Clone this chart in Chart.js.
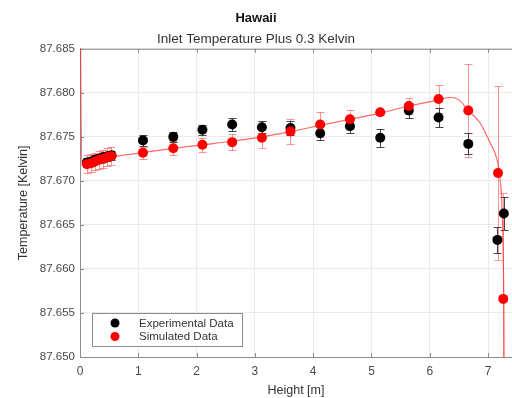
<!DOCTYPE html>
<html>
<head>
<meta charset="utf-8">
<script src="https://cdn.jsdelivr.net/npm/chart.js@4/dist/chart.umd.min.js"></script>
<style>
  html, body { margin: 0; padding: 0; background: #fff; }
  #wrap { width: 512px; height: 398px; }
</style>
</head>
<body>
<div id="wrap"><canvas id="c" width="512" height="398"></canvas></div>
<script>
// Measured temperatures along the height of the test section
const expHeight = [0.12, 0.19, 0.26, 0.33, 0.40, 0.47, 0.54, 1.08, 1.60, 2.10, 2.61, 3.12, 3.61, 4.12, 4.63, 5.15, 5.64, 6.15, 6.66, 7.16, 7.27];
const expTemp   = [87.6721, 87.6722, 87.6724, 87.6725, 87.6727, 87.6728, 87.6729, 87.6746, 87.6750, 87.6758, 87.6764, 87.6761, 87.6760, 87.6754, 87.6762, 87.6749, 87.6780, 87.6772, 87.6742, 87.6633, 87.6663];
const expErr    = [0.0005, 0.0005, 0.0005, 0.0005, 0.0005, 0.0005, 0.0005, 0.0006, 0.0006, 0.0006, 0.0007, 0.0007, 0.0008, 0.0008, 0.0008, 0.0010, 0.0009, 0.0011, 0.0012, 0.0015, 0.0019];

// Simulated temperatures at the sensor heights
const simHeight = [0.12, 0.19, 0.26, 0.33, 0.40, 0.47, 0.54, 1.08, 1.60, 2.10, 2.61, 3.12, 3.61, 4.12, 4.63, 5.15, 5.64, 6.15, 6.66, 7.17, 7.26];
const simTemp   = [87.6719, 87.6720, 87.6722, 87.6724, 87.6725, 87.6727, 87.6728, 87.6732, 87.6737, 87.6741, 87.6744, 87.6749, 87.6756, 87.6764, 87.6770, 87.6778, 87.6785, 87.6793, 87.6780, 87.6709, 87.6566];
const simErr    = [0.0010, 0.0010, 0.0010, 0.0010, 0.0010, 0.0010, 0.0010, 0.0007, 0.0008, 0.0008, 0.0009, 0.0012, 0.0014, 0.0014, 0.0011, 0.0003, 0.0009, 0.0016, 0.0053, 0.0099, 0.0120];

// Continuous simulated profile
const curveHeight = [0.00, 0.03, 0.54, 1.08, 1.60, 2.10, 2.61, 3.12, 3.61, 4.12, 4.63, 5.15, 5.64, 6.15, 6.35, 6.50, 6.66, 6.86, 7.03, 7.15, 7.20, 7.27, 7.28];
const curveTemp   = [87.6950, 87.6718, 87.6727, 87.6732, 87.6737, 87.6741, 87.6745, 87.6750, 87.6756, 87.6763, 87.6770, 87.6777, 87.6785, 87.6792, 87.6795, 87.6792, 87.6780, 87.6766, 87.6744, 87.6725, 87.6705, 87.6566, 87.6400];

const xTicks = [0, 1, 2, 3, 4, 5, 6, 7];
const yTicks = [87.650, 87.655, 87.660, 87.665, 87.670, 87.675, 87.680, 87.685];

const FONT = "'Liberation Sans', Arial, sans-serif";
const toPoints = (xs, ys) => xs.map((v, i) => ({ x: v, y: ys[i] }));

// Vertical error bars with caps, drawn beneath the markers
const errorBars = {
  id: 'errorBars',
  beforeDatasetsDraw(chart) {
    const { ctx, chartArea: a, scales: { x, y } } = chart;
    ctx.save();
    ctx.beginPath();
    ctx.rect(a.left, a.top, a.right - a.left, a.bottom - a.top);
    ctx.clip();
    chart.data.datasets.forEach(ds => {
      if (!ds.errorBars) return;
      ctx.strokeStyle = ds.errorBars.color;
      ctx.lineWidth = 1;
      ds.data.forEach((p, i) => {
        const e = ds.errorBars.values[i];
        const px = Math.round(x.getPixelForValue(p.x)) + 0.5;
        const t = Math.round(y.getPixelForValue(p.y + e)) + 0.5;
        const b = Math.round(y.getPixelForValue(p.y - e)) + 0.5;
        ctx.beginPath();
        ctx.moveTo(px, t); ctx.lineTo(px, b);
        ctx.moveTo(px - 4, t); ctx.lineTo(px + 4, t);
        ctx.moveTo(px - 4, b); ctx.lineTo(px + 4, b);
        ctx.stroke();
      });
    });
    ctx.restore();
  }
};

// Box edge along the top and small inward tick marks
const frame = {
  id: 'frame',
  beforeDatasetsDraw(chart) {
    const { ctx, chartArea: a, scales: { x, y } } = chart;
    ctx.save();
    ctx.strokeStyle = '#8c8c8c';
    ctx.lineWidth = 1;
    ctx.beginPath();
    ctx.moveTo(a.left, a.top + 0.5); ctx.lineTo(a.right, a.top + 0.5);
    xTicks.forEach(v => {
      const px = Math.round(x.getPixelForValue(v)) + 0.5;
      ctx.moveTo(px, a.bottom); ctx.lineTo(px, a.bottom - 4);
      ctx.moveTo(px, a.top); ctx.lineTo(px, a.top + 4);
    });
    yTicks.forEach(v => {
      const py = Math.round(y.getPixelForValue(v)) + 0.5;
      ctx.moveTo(a.left, py); ctx.lineTo(a.left + 4, py);
    });
    ctx.stroke();
    ctx.restore();
  }
};

// Legend box in the lower-left corner of the plot
const boxLegend = {
  id: 'boxLegend',
  afterDraw(chart) {
    const { ctx, chartArea: a } = chart;
    const entries = [chart.data.datasets[1], chart.data.datasets[0]];
    const bx = a.left + 12, by = a.bottom - 44, bw = 150, bh = 33;
    ctx.save();
    ctx.fillStyle = '#fff';
    ctx.fillRect(bx, by, bw, bh);
    ctx.strokeStyle = '#8c8c8c';
    ctx.lineWidth = 1;
    ctx.strokeRect(bx + 0.5, by + 0.5, bw, bh);
    ctx.font = '11.5px ' + FONT;
    ctx.textBaseline = 'middle';
    entries.forEach((ds, i) => {
      const cy = by + 10 + i * 13.5;
      ctx.fillStyle = ds.pointBackgroundColor;
      ctx.beginPath();
      ctx.arc(bx + 23, cy, 4.5, 0, Math.PI * 2);
      ctx.fill();
      ctx.fillStyle = '#333';
      ctx.fillText(ds.label, bx + 47, cy + 0.5);
    });
    ctx.restore();
  }
};

new Chart(document.getElementById('c'), {
  type: 'scatter',
  data: {
    datasets: [
      {
        label: 'Simulated Data',
        data: toPoints(simHeight, simTemp),
        pointRadius: 5,
        pointBackgroundColor: '#ff0000',
        pointBorderWidth: 0,
        borderColor: '#ff0000',
        errorBars: { values: simErr, color: 'rgba(255,60,60,0.55)' },
        order: 0
      },
      {
        label: 'Experimental Data',
        data: toPoints(expHeight, expTemp),
        pointRadius: 5,
        pointBackgroundColor: '#000000',
        pointBorderWidth: 0,
        borderColor: '#000000',
        errorBars: { values: expErr, color: 'rgba(40,40,40,0.85)' },
        order: 1
      },
      {
        label: 'Simulated profile',
        data: toPoints(curveHeight, curveTemp),
        showLine: true,
        pointRadius: 0,
        borderColor: 'rgba(255,40,40,0.7)',
        borderWidth: 1.2,
        cubicInterpolationMode: 'monotone',
        order: 2
      }
    ]
  },
  options: {
    responsive: false,
    animation: false,
    devicePixelRatio: 1,
    layout: { autoPadding: false, padding: { left: 0, right: 0, top: 0, bottom: 0 } },
    plugins: {
      legend: { display: false },
      tooltip: { enabled: false },
      title: {
        display: true,
        text: 'Hawaii',
        color: '#111',
        font: { family: FONT, size: 13, weight: 'bold' },
        padding: { top: 11, bottom: 2 }
      },
      subtitle: {
        display: true,
        text: 'Inlet Temperature Plus 0.3 Kelvin',
        color: '#333',
        font: { family: FONT, size: 13.5 },
        padding: { top: 3, bottom: 1 }
      }
    },
    scales: {
      x: {
        type: 'linear',
        min: 0,
        max: 7.41,
        afterBuildTicks: s => { s.ticks = xTicks.map(v => ({ value: v })); },
        afterFit: s => { s.height = 41; },
        grid: { color: '#ebebeb', drawTicks: false },
        border: { color: '#8c8c8c' },
        ticks: { color: '#4a4a4a', font: { family: FONT, size: 12 }, padding: 7 },
        title: { display: true, text: 'Height [m]', color: '#333', font: { family: FONT, size: 12.5 }, padding: { top: 2, bottom: 0 } }
      },
      y: {
        type: 'linear',
        min: 87.650,
        max: 87.685,
        afterBuildTicks: s => { s.ticks = yTicks.map(v => ({ value: v })); },
        afterFit: s => { s.width = 80; },
        grid: { color: '#ebebeb', drawTicks: false },
        border: { color: '#8c8c8c' },
        ticks: { color: '#4a4a4a', font: { family: FONT, size: 11.5 }, padding: 5, callback: v => v.toFixed(3) },
        title: { display: true, text: 'Temperature [Kelvin]', color: '#333', font: { family: FONT, size: 12.5 }, padding: { top: 16, bottom: 0 } }
      }
    }
  },
  plugins: [errorBars, frame, boxLegend]
});
</script>
</body>
</html>
